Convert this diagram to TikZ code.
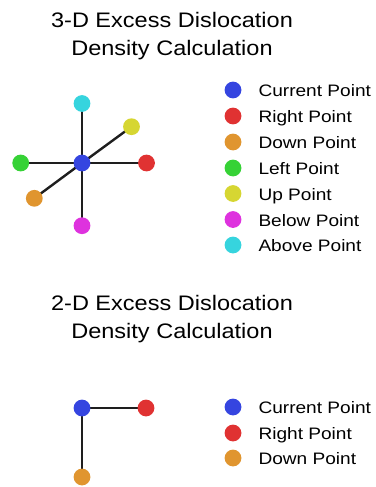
\documentclass[tikz,border=0pt]{standalone}
\usepackage{fontspec}
\setmainfont{Liberation Sans}
\usetikzlibrary{backgrounds}
\definecolor{cblue}{HTML}{3545E0}
\definecolor{cred}{HTML}{E03232}
\definecolor{corange}{HTML}{E0952F}
\definecolor{cgreen}{HTML}{36D236}
\definecolor{cyellow}{HTML}{D6D632}
\definecolor{cmagenta}{HTML}{DE32DE}
\definecolor{ccyan}{HTML}{36D4DE}
\definecolor{cline}{HTML}{1E1E1E}
\tikzset{
  dot/.style={circle,fill=#1,inner sep=0pt,minimum size=16.8pt},
  link/.style={draw=cline,line width=2.4pt},
  titletext/.style={anchor=base,inner sep=0pt,font=\fontsize{21}{25}\selectfont},
  legtext/.style={anchor=base west,inner sep=0pt,font=\fontsize{16.6}{20}\selectfont},
}
\newcommand{\wide}[1]{\scalebox{1.12}[1]{#1}}
\newcommand{\widel}[1]{\scalebox{1.15}[1]{#1}}
\begin{document}
\begin{tikzpicture}[x=1pt,y=-1pt]
\useasboundingbox (0,0) rectangle (375,487);
% ---------- 3-D ----------
\node[titletext] (t3a) at (172,27.3) {\wide{3-D Excess Dislocation}};
\node[titletext] (t3b) at (172,55.5) {\wide{Density Calculation}};
\node[dot=cblue] (c3) at (82,163) {};
\node[dot=ccyan] (ab3) at (82,103.5) {};
\node[dot=cyellow] (up3) at (131.5,126.7) {};
\node[dot=cgreen] (le3) at (20.7,163) {};
\node[dot=cred] (ri3) at (146.5,163) {};
\node[dot=corange] (dn3) at (34.3,198.3) {};
\node[dot=cmagenta] (be3) at (82,225.7) {};
\begin{pgfonlayer}{background}
\draw[link] (c3.center) -- (ab3.center);
\draw[link] (c3.center) -- (be3.center);
\draw[link] (c3.center) -- (le3.center);
\draw[link] (c3.center) -- (ri3.center);
\draw[link] (c3.center) -- (up3.center);
\draw[link] (c3.center) -- (dn3.center);
\end{pgfonlayer}
% legend 3-D
\node[dot=cblue]    (l3a) at (233,90) {};
\node[dot=cred]     (l3b) at (233,116) {};
\node[dot=corange]  (l3c) at (233,142) {};
\node[dot=cgreen]   (l3d) at (233,168) {};
\node[dot=cyellow]  (l3e) at (233,193.5) {};
\node[dot=cmagenta] (l3f) at (233,219.5) {};
\node[dot=ccyan]    (l3g) at (233,245) {};
\node[legtext] (x3a) at (258.3,96.5) {\widel{Current Point}};
\node[legtext] (x3b) at (258.3,122.5) {\widel{Right Point}};
\node[legtext] (x3c) at (258.3,148.5) {\widel{Down Point}};
\node[legtext] (x3d) at (258.3,174.5) {\widel{Left Point}};
\node[legtext] (x3e) at (258.3,200) {\widel{Up Point}};
\node[legtext] (x3f) at (258.3,226) {\widel{Below Point}};
\node[legtext] (x3g) at (258.3,251.5) {\widel{Above Point}};
% ---------- 2-D ----------
\node[titletext] (t2a) at (172,310) {\wide{2-D Excess Dislocation}};
\node[titletext] (t2b) at (172,338.5) {\wide{Density Calculation}};
\node[dot=cblue] (c2) at (82,408) {};
\node[dot=cred] (ri2) at (146,408) {};
\node[dot=corange] (dn2) at (82,477) {};
\begin{pgfonlayer}{background}
\draw[link] (c2.center) -- (ri2.center);
\draw[link] (c2.center) -- (dn2.center);
\end{pgfonlayer}
\node[dot=cblue]   (l2a) at (233,407) {};
\node[dot=cred]    (l2b) at (233,433) {};
\node[dot=corange] (l2c) at (233,458) {};
\node[legtext] (x2a) at (258.3,413.5) {\widel{Current Point}};
\node[legtext] (x2b) at (258.3,439.5) {\widel{Right Point}};
\node[legtext] (x2c) at (258.3,464.5) {\widel{Down Point}};
\end{tikzpicture}
\end{document}
